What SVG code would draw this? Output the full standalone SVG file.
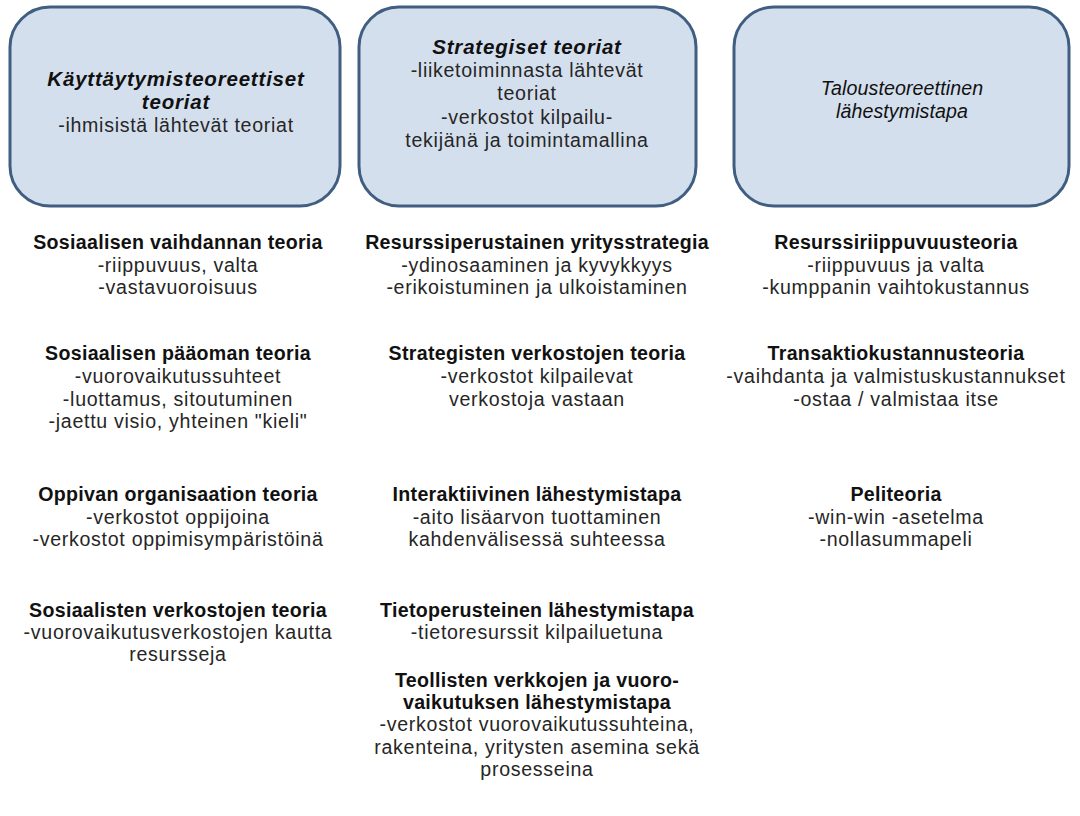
<svg xmlns="http://www.w3.org/2000/svg" width="1080" height="816" viewBox="0 0 1080 816">
<style>
.box{fill:#d4dfee;stroke:#405f80;stroke-width:3}
text{font-family:"Liberation Sans",Arial,sans-serif;font-size:19.6px;letter-spacing:0.7px;fill:#262626;text-anchor:middle}
.h{font-weight:bold;letter-spacing:0.3px;fill:#111}
.hi{font-weight:bold;font-style:italic;font-size:20.5px;letter-spacing:0.8px;fill:#111}
.i{font-style:italic;letter-spacing:0.1px;fill:#111}
</style>
<rect width="1080" height="816" fill="#fff"/>
<g id="box-kayttaytyminen">
<rect class="box" x="10" y="7" width="330" height="199" rx="40"/>
<text x="176" y="86" class="hi">Käyttäytymisteoreettiset</text>
<text x="176" y="109" class="hi">teoriat</text>
<text x="176" y="132">-ihmisistä lähtevät teoriat</text>
</g>
<g id="box-strategiset">
<rect class="box" x="359" y="7" width="337" height="199" rx="40"/>
<text x="527" y="54" class="hi">Strategiset teoriat</text>
<text x="527" y="77">-liiketoiminnasta lähtevät</text>
<text x="527" y="100">teoriat</text>
<text x="527" y="124">-verkostot kilpailu-</text>
<text x="527" y="147">tekijänä ja toimintamallina</text>
</g>
<g id="box-talous">
<rect class="box" x="734" y="7" width="335" height="199" rx="40"/>
<text x="902" y="95" class="i">Talousteoreettinen</text>
<text x="902" y="118" class="i">lähestymistapa</text>
</g>
<g id="col-left">
<text x="178" y="249" class="h">Sosiaalisen vaihdannan teoria</text>
<text x="178" y="272">-riippuvuus, valta</text>
<text x="178" y="294">-vastavuoroisuus</text>
<text x="178" y="360" class="h">Sosiaalisen pääoman teoria</text>
<text x="178" y="383">-vuorovaikutussuhteet</text>
<text x="178" y="406">-luottamus, sitoutuminen</text>
<text x="178" y="428">-jaettu visio, yhteinen "kieli"</text>
<text x="178" y="501" class="h">Oppivan organisaation teoria</text>
<text x="178" y="524">-verkostot oppijoina</text>
<text x="178" y="546">-verkostot oppimisympäristöinä</text>
<text x="178" y="617" class="h">Sosiaalisten verkostojen teoria</text>
<text x="178" y="639">-vuorovaikutusverkostojen kautta</text>
<text x="178" y="661">resursseja</text>
</g>
<g id="col-middle">
<text x="537" y="249" class="h">Resurssiperustainen yritysstrategia</text>
<text x="537" y="272">-ydinosaaminen ja kyvykkyys</text>
<text x="537" y="294">-erikoistuminen ja ulkoistaminen</text>
<text x="537" y="360" class="h">Strategisten verkostojen teoria</text>
<text x="537" y="383">-verkostot kilpailevat</text>
<text x="537" y="406">verkostoja vastaan</text>
<text x="537" y="501" class="h">Interaktiivinen lähestymistapa</text>
<text x="537" y="524">-aito lisäarvon tuottaminen</text>
<text x="537" y="546">kahdenvälisessä suhteessa</text>
<text x="537" y="617" class="h">Tietoperusteinen lähestymistapa</text>
<text x="537" y="639">-tietoresurssit kilpailuetuna</text>
<text x="537" y="687" class="h">Teollisten verkkojen ja vuoro-</text>
<text x="537" y="709" class="h">vaikutuksen lähestymistapa</text>
<text x="537" y="731">-verkostot vuorovaikutussuhteina,</text>
<text x="537" y="754">rakenteina, yritysten asemina sekä</text>
<text x="537" y="776">prosesseina</text>
</g>
<g id="col-right">
<text x="896" y="249" class="h">Resurssiriippuvuusteoria</text>
<text x="896" y="272">-riippuvuus ja valta</text>
<text x="896" y="294">-kumppanin vaihtokustannus</text>
<text x="896" y="360" class="h">Transaktiokustannusteoria</text>
<text x="896" y="383">-vaihdanta ja valmistuskustannukset</text>
<text x="896" y="406">-ostaa / valmistaa itse</text>
<text x="896" y="501" class="h">Peliteoria</text>
<text x="896" y="524">-win-win -asetelma</text>
<text x="896" y="546">-nollasummapeli</text>
</g>
<g id="connectors"/>
</svg>
